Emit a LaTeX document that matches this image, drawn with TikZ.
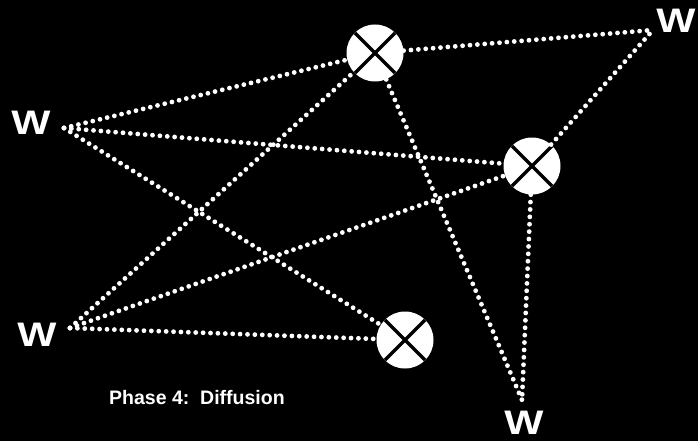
\documentclass[tikz,border=0pt]{standalone}
\usepackage{fontspec}
\usepackage{graphicx}
\newfontfamily\hvfont{Liberation Sans}
\tikzset{
  xcirc/.style={circle, fill=white, minimum size=57pt, inner sep=0pt,
    path picture={
      \draw[black, line width=3.2pt]
        (path picture bounding box.south west) -- (path picture bounding box.north east)
        (path picture bounding box.north west) -- (path picture bounding box.south east);
    }},
  dotline/.style={white, line width=4.8pt, line cap=round, dash pattern=on 0pt off 7.4pt},
  wlabel/.style={text=white, inner sep=0pt, font=\hvfont\bfseries\fontsize{34}{34}\selectfont},
}
\begin{document}
\begin{tikzpicture}[x=1pt,y=-1pt]
\fill[black] (0,0) rectangle (698,441);
\useasboundingbox (0,0) rectangle (698,441);

\node[xcirc] (c1) at (375,53) {};
\node[xcirc] (c2) at (532,166) {};
\node[xcirc] (c3) at (405,340) {};

\node[wlabel] (wtl) at (31,123) {\scalebox{1.22}[1]{W}};
\node[wlabel] (wbl) at (37,335) {\scalebox{1.22}[1]{W}};
\node[wlabel] (wtr) at (676,21) {\scalebox{1.22}[1]{W}};
\node[wlabel] (wbot) at (524,423) {\scalebox{1.22}[1]{W}};

\coordinate (etl) at (64,128);
\coordinate (ebl) at (70,328);
\coordinate (etr) at (653,30);
\coordinate (ebot) at (522,400);

\draw[dotline] (etl) -- (c1);
\draw[dotline] (etl) -- (c2);
\draw[dotline] (etl) -- (c3);
\draw[dotline] (ebl) -- (c1);
\draw[dotline] (ebl) -- (c2);
\draw[dotline] (ebl) -- (c3);
\draw[dotline] (c1) -- (etr);
\draw[dotline] (c2) -- (etr);
\draw[dotline] (c1) -- (ebot);
\draw[dotline] (c2) -- (ebot);

\node[text=white, inner sep=0pt, anchor=base west, font=\hvfont\bfseries\fontsize{19.5}{19.5}\selectfont] (title) at (109,404) {Phase 4:\ \ Diffusion};
\end{tikzpicture}
\end{document}
